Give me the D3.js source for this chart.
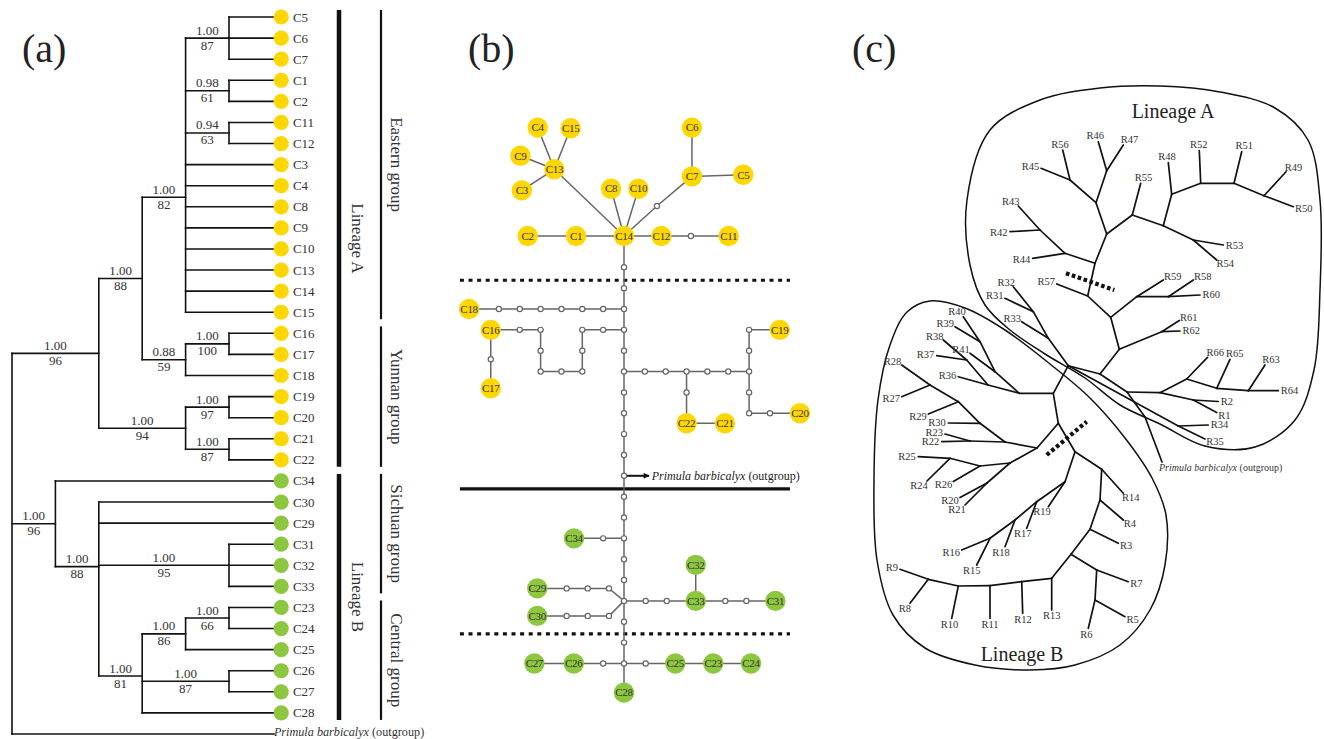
<!DOCTYPE html>
<html>
<head>
<meta charset="utf-8">
<script src="https://cdn.jsdelivr.net/npm/d3@7"></script>
<style>
  body { margin: 0; background: #fff; }
  svg { display: block; }
  text { font-family: "Liberation Serif", "Times New Roman", serif; }
</style>
</head>
<body>
<svg id="fig" width="1324" height="739"></svg>
<script>
// ================= data =================

// (a) Bayesian / ML tree of chloroplast haplotypes; [posterior, bootstrap]
const haplotypeTree = {level: 0, children: [
  {level: 2, sup: ["1.00", "96"], children: [
    {level: 3, sup: ["1.00", "88"], children: [
      {level: 4, sup: ["1.00", "82"], children: [
        {level: 5, sup: ["1.00", "87"], children: ["C5", "C6", "C7"]},
        {level: 5, sup: ["0.98", "61"], children: ["C1", "C2"]},
        {level: 5, sup: ["0.94", "63"], children: ["C11", "C12"]},
        "C3", "C4", "C8", "C9", "C10", "C13", "C14", "C15"]},
      {level: 4, sup: ["0.88", "59"], children: [
        {level: 5, sup: ["1.00", "100"], children: ["C16", "C17"]}, "C18"]}]},
    {level: 4, sup: ["1.00", "94"], children: [
      {level: 5, sup: ["1.00", "97"], children: ["C19", "C20"]},
      {level: 5, sup: ["1.00", "87"], children: ["C21", "C22"]}]}]},
  {level: 1, sup: ["1.00", "96"], children: [
    "C34",
    {level: 2, sup: ["1.00", "88"], children: [
      "C30", "C29",
      {level: 5, sup: ["1.00", "95"], children: ["C31", "C32", "C33"]},
      {level: 3, sup: ["1.00", "81"], children: [
        {level: 4, sup: ["1.00", "86"], children: [
          {level: 5, sup: ["1.00", "66"], children: ["C23", "C24"]}, "C25"]},
        {level: 5, sup: ["1.00", "87"], children: ["C26", "C27"]},
        "C28"]}]}]},
  "OUTGROUP"]};

const lineageAHaplotypes = ["C1","C2","C3","C4","C5","C6","C7","C8","C9","C10","C11",
  "C12","C13","C14","C15","C16","C17","C18","C19","C20","C21","C22"];

const lineageBars = [["Lineage A", "C5", "C22"], ["Lineage B", "C34", "C28"]];
const groupBars = [["Eastern group", "C5", "C15"], ["Yunnan group", "C16", "C22"],
                   ["Sichuan group", "C34", "C33"], ["Central group", "C23", "C28"]];

// (b) haplotype network, positions in network grid steps (one step = one mutation)
const networkHaplotypes = [
  ["C4",-4.14,-4.7],["C15",-2.56,-4.67],["C9",-4.97,-3.35],["C13",-3.34,-2.7],["C3",-4.9,-1.69],
  ["C8",-0.62,-1.77],["C10",0.69,-1.77],["C6",3.26,-4.7],["C7",3.26,-2.36],["C5",5.72,-2.44],
  ["C2",-4.62,0.5],["C1",-2.3,0.5],["C14",0,0.5],["C12",1.79,0.5],["C11",5.02,0.5],
  ["C18",-7.43,4],["C16",-6.39,5],["C17",-6.39,7.8],["C19",7.47,5],
  ["C22",3,9.48],["C21",4.84,9.48],["C20",8.44,9],
  ["C34",-2.4,15],["C29",-4.16,17.4],["C30",-4.16,18.72],["C33",3.44,18],["C32",3.44,16.27],["C31",7.26,18],
  ["C27",-4.3,21],["C26",-2.41,21],["C25",2.46,21],["C23",4.28,21],["C24",6.09,21],["C28",0,22.4]
];
// missing (median) haplotypes
const medianVectors = [
  ["m1",1.58,-0.94],["m2",3.21,0.5],
  ["v2",0,2],["v3",0,3],["v4",0,4],["v5",0,5],["v6",0,6],["v7",0,7],["v8",0,8],["v9",0,9],
  ["v10",0,10],["v11",0,11],["v12",0,12],["v13",0,13],["v14",0,14],["v15",0,15],["v16",0,16],
  ["v17",0,17],["v18",0,18],["v19",0,19],["v20",0,20],["v21",0,21],
  ["h1",-1,4],["h2",-2,4],["h3",-3,4],["h4",-4,4],["h5",-5,4],["h6",-6,4],
  ["p1",-1,5],["p2",-2,5],["p3",-2,6],["p4",-2,7],["p5",-3,7],["p6",-4,7],["p7",-4,6],["p8",-4,5],["p9",-5,5],
  ["q1",-6.39,6.41],
  ["r1",1,7],["r2",2,7],["r3",3,7],["r4",4,7],["r5",5,7],["r6",6,7],["r7",3,8],
  ["r8",6,6],["r9",6,5],["r10",6,8],["r11",6,9],["r12",7,9],
  ["s1",-1,15],
  ["t1",-0.72,17.4],["t2",-1.74,17.4],["t3",-2.75,17.4],["t4",-0.72,18.72],["t5",-1.74,18.72],["t6",-2.75,18.72],
  ["u1",1.04,18],["u2",2.05,18],["u3",4.86,18],["u4",5.87,18],
  ["w1",-1,21],["w2",1.04,21]
];
const networkPaths = [
  ["C4","C13"],["C15","C13"],["C9","C13"],["C3","C13"],["C13","C14"],["C8","C14"],["C10","C14"],
  ["C14","m1","C7"],["C6","C7","C5"],["C2","C1","C14","C12","m2","C11"],
  ["C14","v2","v3","v4","v5","v6","v7","v8","v9","v10","v11","v12","v13","v14","v15","v16",
   "v17","v18","v19","v20","v21","C28"],
  ["v4","h1","h2","h3","h4","h5","h6","C18"],
  ["v5","p1","p2","p3","p4","p5","p6","p7","p8","p9","C16"],
  ["C16","q1","C17"],
  ["v7","r1","r2","r3","r4","r5","r6","r8","r9","C19"],
  ["r3","r7","C22","C21"],
  ["r6","r10","r11","r12","C20"],
  ["v15","s1","C34"],
  ["v18","t1","t2","t3","C29"],["v18","t4","t5","t6","C30"],
  ["v18","u1","u2","C33","u3","u4","C31"],["C33","C32"],
  ["v21","w1","C26","C27"],["v21","w2","C25","C23","C24"]
];
const networkOutgroupNode = "v12";
const dottedRows = [2.62, 19.58];
const solidRows = [12.63];
const separatorCols = [-7.87, 7.96];

// (c) unrooted tree of nuclear ribotypes, node positions in panel units
const ribotypeNodes = [
  ["a1",246.7,154],["a2",210,100],["a3",246.7,90.7],["a4",236,122.7],["a5",272.3,135],["a6",303.3,145.7],
  ["a7",311.7,114.3],["a8",340.7,103.3],["a9",374,103.3],["a10",404,115.7],["a11",333.3,160],
  ["a12",235,183.3],["a13",205,173.3],["a14",180,150],["a15",227.7,216],["a16",250.7,237.3],
  ["a17",276.7,216.7],["a18",308.3,216.7],["a19",259.3,269.3],["a20",301.7,251.7],
  ["hubR",240,294],["a21",267,312],["a22",300,312.7],["a23",326.7,299],["a24",356.7,308.3],
  ["a25",388.3,310.7],["a26",333.3,320],["og1",285,337],["hubM",208.3,285.7],["a27",318.3,346],
  ["c1",188.3,258.3],["c2",173.3,231.7],["hubL",193.3,313.3],["b1",198.3,343.3],["b2",177,368],
  ["b3",145,362],["b4",110,361],["b5",120,343.3],["b6",98.3,321.7],["b7",70,305],
  ["J1",150,383],["J2",120,386],["J3",90,378.3],["J4",127,403],
  ["b8",215,371.7],["b9",241.7,389.3],["b10",240,420],["b11",230,449.3],["b12",211,474.3],
  ["b13",236.7,490],["b14",235,520],["b15",191.7,498.3],["b16",161.7,501.7],["b17",130,505.7],
  ["b18",98.3,506],["b19",68.3,499.3],["b20",205,401.7],["b21",176.7,421.7],["b22",155,440],
  ["b23",130,458.3],["b24",159.3,313.3],["b25",135,291.7],["b26",120,261.7],["b27",128,305],["b28",106.7,280]
];
const ribotypeTips = [
  ["R56",202.7,70],["R45",181,88.3],["R46",238.3,61.7],["R47",263.3,65],["R55",280.7,103.3],
  ["R48",308.3,82.7],["R52",339.3,70.7],["R51",381.7,71.7],["R49",426,91.7],["R50",433.3,126.7],
  ["R53",363.3,165],["R54",356.7,180],["R44",172.7,178.3],["R42",150,151.7],["R43",158.3,126],
  ["R57",196.7,204],["R59",303.3,200],["R58",333.3,200],["R60",340,215],["R61",319.3,240.5],
  ["R62",320,251],["R66",347.5,277.3],["R65",370,279.3],["R63",405,285],["R64",418.3,310.7],
  ["R2",358.3,321.5],["R1",356.7,332.5],["R34",348.3,345],["R35",345,359],
  ["R33",161.7,241.7],["R32",153.3,206.7],["R31",145,218.3],
  ["R22",81.7,361.7],["R23",85,354],["R30",88.3,343],["R29",68.3,334],["R27",41.7,316.7],["R28",41.7,285],
  ["R25",58.3,376.7],["R24",67,401],["R26",93.3,401.5],["R20",100,417.5],["R21",105,425],
  ["R14",263.3,413.3],["R4",263.3,440],["R3",258.3,463.3],["R7",268.3,501.7],["R5",265,536.7],
  ["R6",228.3,548.3],["R13",191.7,530],["R12",162.7,533.3],["R11",130,538.3],["R10",91.7,538.3],
  ["R8",50,523.3],["R9",40,489.3],["R19",188.3,426.7],["R17",166.7,448.3],["R18",145,466.7],
  ["R16",101.7,470],["R15",116.7,485],["R41",110,273.3],["R39",95,246.7],["R40",103.3,236.7],
  ["R36",98.3,296.7],["R37",76.7,275.7],["R38",83.3,260]
];
const ribotypeOutgroup = ["OG", 302, 382];
const ribotypeEdges = [
  ["a1","a4"],["a4","a2"],["a2","R56"],["a2","R45"],["a4","a3"],["a3","R46"],["a3","R47"],
  ["a1","a5"],["a5","R55"],["a5","a6"],["a6","a7"],["a7","R48"],["a7","a8"],["a8","R52"],
  ["a8","a9"],["a9","R51"],["a9","a10"],["a10","R49"],["a10","R50"],["a6","a11"],["a11","R53"],
  ["a11","R54"],["a12","a1"],["a12","a13"],["a13","R44"],["a13","a14"],["a14","R42"],["a14","R43"],
  ["a15","a12"],["a15","R57"],["a16","a15"],["a16","a17"],["a17","R59"],["a17","a18"],["a18","R58"],
  ["a18","R60"],["a19","a16"],["a19","a20"],["a20","R61"],["a20","R62"],["hubR","a19"],["hubR","a21"],
  ["a21","a22"],["a22","a23"],["a23","R66"],["a23","a24"],["a24","R65"],["a24","a25"],["a25","R63"],
  ["a25","R64"],["a22","a26"],["a26","R2"],["a26","R1"],["a21","og1"],["og1","OG"],
  ["hubM","hubR"],["hubM","a27"],["a27","R34"],["a27","R35"],["hubM","c1"],["c1","R33"],["c1","c2"],
  ["c2","R32"],["c2","R31"],["hubM","hubL"],["hubL","b24"],["b24","b25"],["b25","R41"],["b25","b26"],
  ["b26","R39"],["b26","R40"],["b24","b27"],["b27","R36"],["b27","b28"],["b28","R37"],["b28","R38"],
  ["hubL","b1"],["b1","b2"],["b2","b3"],["b3","b4"],["b4","R22"],["b4","R23"],["b3","b5"],["b5","R30"],
  ["b5","b6"],["b6","R29"],["b6","b7"],["b7","R27"],["b7","R28"],["b2","J1"],["J1","J2"],["J2","J3"],
  ["J3","R25"],["J3","R24"],["J2","R26"],["J1","J4"],["J4","R20"],["J4","R21"],["b1","b8"],["b8","b9"],
  ["b9","R14"],["b9","b10"],["b10","R4"],["b10","b11"],["b11","R3"],["b11","b12"],["b12","b13"],
  ["b13","R7"],["b13","b14"],["b14","R5"],["b14","R6"],["b12","b15"],["b15","R13"],["b15","b16"],
  ["b16","R12"],["b16","b17"],["b17","R11"],["b17","b18"],["b18","R10"],["b18","b19"],["b19","R8"],
  ["b19","R9"],["b8","b20"],["b20","R19"],["b20","b21"],["b21","R17"],["b21","b22"],["b22","R18"],
  ["b22","b23"],["b23","R16"],["b23","R15"]
];
const lineageAOutline = [[130,50],[180,20],[240,8],[300,6],[360,12],[415,28],[448,60],[460,120],
  [460,210],[454,290],[435,340],[395,367],[345,366],[300,344],[260,325],[225,298],[185,274],
  [150,250],[125,225],[110,185],[107,120]];
const lineageBOutline = [[70,221],[105,228],[145,250],[190,284],[230,318],[265,358],[292,398],
  [306,435],[305,485],[290,530],[260,565],[215,585],[170,590],[115,585],[65,568],[33,535],
  [17,480],[14,400],[18,320],[30,265],[47,232]];
const outlineLabels = [["Lineage A", 313, 38], ["Lineage B", 162, 581]];
const lineageSplitMarks = [[[206,193.3],[254.3,210]], [[186.7,375],[226.7,341.7]]];

const panelLetters = [["(a)", 22, 62], ["(b)", 468, 62], ["(c)", 852, 62]];

// ================= drawing =================
const YELLOW = "#FFD700", GREEN = "#8DC63F";
const svg = d3.select("#fig");
svg.append("rect").attr("width", 1324).attr("height", 739).attr("fill", "#fff");

svg.selectAll("text.panel").data(panelLetters).join("text")
  .attr("class", "panel").attr("x", d => d[1]).attr("y", d => d[2])
  .attr("font-size", 40).attr("fill", "#222").text(d => d[0]);

const colourOf = id => lineageAHaplotypes.includes(id) ? YELLOW : GREEN;

// ---------- (a) tree ----------
const gA = svg.append("g");
const xA = d3.scaleLinear().domain([0, 6]).range([12, 272.4]);
const yA = d3.scaleLinear().domain([0, 34]).range([17, 734]);
const LEAF_LEVEL = 6;

let leafCounter = 0;
const leafY = {};
function layout(node, parent) {
  if (typeof node === "string") {
    const y = yA(leafCounter++);
    leafY[node] = y;
    return {name: node, leaf: true, level: LEAF_LEVEL, y, parent};
  }
  const n = {level: node.level, sup: node.sup, parent, leaf: false};
  n.kids = node.children.map(c => layout(c, n));
  n.y = d3.mean(n.kids, k => k.y);
  return n;
}
const rootA = layout(haplotypeTree, null);

const treeLines = [], supports = [], leaves = [];
(function walk(n) {
  if (n.leaf) { leaves.push(n); return; }
  const ys = n.kids.map(k => k.y);
  treeLines.push([xA(n.level), d3.min(ys), xA(n.level), d3.max(ys)]);
  n.kids.forEach(k => {
    treeLines.push([xA(n.level), k.y, xA(k.level) + (k.leaf ? 1.5 : 0), k.y]);
    walk(k);
  });
  if (n.sup && n.parent) supports.push({x: (xA(n.parent.level) + xA(n.level)) / 2, y: n.y, sup: n.sup});
})(rootA);

gA.selectAll("line.br").data(treeLines).join("line").attr("class", "br")
  .attr("x1", d => d[0]).attr("y1", d => d[1]).attr("x2", d => d[2]).attr("y2", d => d[3])
  .attr("stroke", "#111").attr("stroke-width", 1.6).attr("stroke-linecap", "square");

const supG = gA.selectAll("g.sup").data(supports).join("g").attr("class", "sup");
supG.append("text").attr("x", d => d.x).attr("y", d => d.y - 3.5).attr("text-anchor", "middle")
  .attr("font-size", 13).attr("fill", "#333").text(d => d.sup[0]);
supG.append("text").attr("x", d => d.x).attr("y", d => d.y + 11.5).attr("text-anchor", "middle")
  .attr("font-size", 13).attr("fill", "#333").text(d => d.sup[1]);

const tips = leaves.filter(l => l.name !== "OUTGROUP");
gA.selectAll("circle.tip").data(tips).join("circle").attr("class", "tip")
  .attr("cx", xA(LEAF_LEVEL) + 8.8).attr("cy", d => d.y).attr("r", 7.6)
  .attr("fill", d => colourOf(d.name));
gA.selectAll("text.tip").data(tips).join("text").attr("class", "tip")
  .attr("x", xA(LEAF_LEVEL) + 20.5).attr("y", d => d.y + 4.5)
  .attr("font-size", 13).attr("fill", "#333").text(d => d.name);

const outLeaf = leaves.find(l => l.name === "OUTGROUP");
const outLabel = gA.append("text").attr("x", xA(LEAF_LEVEL) + 1.5).attr("y", outLeaf.y + 2)
  .attr("font-size", 12.2).attr("fill", "#333");
outLabel.append("tspan").attr("font-style", "italic").text("Primula barbicalyx");
outLabel.append("tspan").text(" (outgroup)");

function barExtent(a, b) { return [leafY[a] - 7, leafY[b] + 7]; }
gA.selectAll("line.lin").data(lineageBars).join("line").attr("class", "lin")
  .attr("x1", 339).attr("x2", 339)
  .attr("y1", d => barExtent(d[1], d[2])[0]).attr("y2", d => barExtent(d[1], d[2])[1])
  .attr("stroke", "#111").attr("stroke-width", 4.5);
gA.selectAll("text.lin").data(lineageBars).join("text").attr("class", "lin")
  .attr("transform", d => `translate(357,${d3.mean(barExtent(d[1], d[2]))}) rotate(90)`)
  .attr("text-anchor", "middle").attr("dy", "0.32em").attr("font-size", 17).attr("fill", "#333")
  .text(d => d[0]);
gA.selectAll("line.grp").data(groupBars).join("line").attr("class", "grp")
  .attr("x1", 381).attr("x2", 381)
  .attr("y1", d => barExtent(d[1], d[2])[0]).attr("y2", d => barExtent(d[1], d[2])[1])
  .attr("stroke", "#111").attr("stroke-width", 2.2);
gA.selectAll("text.grp").data(groupBars).join("text").attr("class", "grp")
  .attr("transform", d => `translate(396,${d3.mean(barExtent(d[1], d[2]))}) rotate(90)`)
  .attr("text-anchor", "middle").attr("dy", "0.32em").attr("font-size", 17).attr("fill", "#333")
  .text(d => d[0]);

// ---------- (b) network ----------
const gB = svg.append("g");
const STEP = 20.85;
const xB = d3.scaleLinear().domain([0, 1]).range([624, 624 + STEP]);
const yB = d3.scaleLinear().domain([0, 1]).range([225.6, 225.6 + STEP]);
const pos = {};
networkHaplotypes.forEach(d => pos[d[0]] = [xB(d[1]), yB(d[2])]);
medianVectors.forEach(d => pos[d[0]] = [xB(d[1]), yB(d[2])]);

svg.append("defs").append("marker").attr("id", "arrow").attr("viewBox", "0 0 10 10")
  .attr("refX", 9).attr("refY", 5).attr("markerWidth", 9).attr("markerHeight", 6)
  .attr("markerUnits", "userSpaceOnUse").attr("orient", "auto")
  .append("path").attr("d", "M0,0L10,5L0,10Z").attr("fill", "#111");

gB.selectAll("line.sepd").data(dottedRows).join("line").attr("class", "sepd")
  .attr("x1", xB(separatorCols[0])).attr("x2", xB(separatorCols[1]))
  .attr("y1", d => yB(d)).attr("y2", d => yB(d))
  .attr("stroke", "#111").attr("stroke-width", 3.2).attr("stroke-dasharray", "4,4.6");
gB.selectAll("line.seps").data(solidRows).join("line").attr("class", "seps")
  .attr("x1", xB(separatorCols[0])).attr("x2", xB(separatorCols[1]))
  .attr("y1", d => yB(d)).attr("y2", d => yB(d))
  .attr("stroke", "#111").attr("stroke-width", 3.2);

const netLine = d3.line();
gB.selectAll("path.link").data(networkPaths).join("path").attr("class", "link")
  .attr("d", d => netLine(d.map(id => pos[id])))
  .attr("fill", "none").attr("stroke", "#666").attr("stroke-width", 1.5);

const op = pos[networkOutgroupNode];
gB.append("line").attr("x1", op[0] + 2).attr("y1", op[1]).attr("x2", xB(1.2)).attr("y2", op[1])
  .attr("stroke", "#111").attr("stroke-width", 2).attr("marker-end", "url(#arrow)");
const bOut = gB.append("text").attr("x", xB(1.33)).attr("y", op[1] + 4.2)
  .attr("font-size", 12).attr("fill", "#222");
bOut.append("tspan").attr("font-style", "italic").text("Primula barbicalyx");
bOut.append("tspan").text(" (outgroup)");

gB.selectAll("circle.mv").data(medianVectors).join("circle").attr("class", "mv")
  .attr("cx", d => pos[d[0]][0]).attr("cy", d => pos[d[0]][1]).attr("r", 2.6)
  .attr("fill", "#fff").attr("stroke", "#666").attr("stroke-width", 1.2);
gB.selectAll("circle.hap").data(networkHaplotypes).join("circle").attr("class", "hap")
  .attr("cx", d => pos[d[0]][0]).attr("cy", d => pos[d[0]][1]).attr("r", 10.2)
  .attr("fill", d => colourOf(d[0]));
gB.selectAll("text.hap").data(networkHaplotypes).join("text").attr("class", "hap")
  .attr("x", d => pos[d[0]][0]).attr("y", d => pos[d[0]][1] + 3.8)
  .attr("text-anchor", "middle").attr("font-size", 11).attr("letter-spacing", -0.3)
  .attr("fill", "#333").text(d => d[0]);

// ---------- (c) unrooted tree ----------
const gC = svg.append("g");
const xC = d3.scaleLinear().domain([0, 464]).range([860, 1324]);
const yC = d3.scaleLinear().domain([0, 659]).range([80, 739]);
const cPos = {};
ribotypeNodes.forEach(d => cPos[d[0]] = [xC(d[1]), yC(d[2])]);
ribotypeTips.forEach(d => cPos[d[0]] = [xC(d[1]), yC(d[2])]);
cPos[ribotypeOutgroup[0]] = [xC(ribotypeOutgroup[1]), yC(ribotypeOutgroup[2])];

const outline = d3.line().x(d => xC(d[0])).y(d => yC(d[1])).curve(d3.curveCatmullRomClosed.alpha(0.5));
gC.selectAll("path.outline").data([lineageAOutline, lineageBOutline]).join("path").attr("class", "outline")
  .attr("d", outline).attr("fill", "none").attr("stroke", "#111").attr("stroke-width", 1.5);
gC.selectAll("text.outl").data(outlineLabels).join("text").attr("class", "outl")
  .attr("x", d => xC(d[1])).attr("y", d => yC(d[2])).attr("text-anchor", "middle")
  .attr("font-size", 20).attr("fill", "#222").text(d => d[0]);

gC.selectAll("line.edge").data(ribotypeEdges).join("line").attr("class", "edge")
  .attr("x1", d => cPos[d[0]][0]).attr("y1", d => cPos[d[0]][1])
  .attr("x2", d => cPos[d[1]][0]).attr("y2", d => cPos[d[1]][1])
  .attr("stroke", "#111").attr("stroke-width", 1.7).attr("stroke-linecap", "round");

gC.selectAll("line.split").data(lineageSplitMarks).join("line").attr("class", "split")
  .attr("x1", d => xC(d[0][0])).attr("y1", d => yC(d[0][1]))
  .attr("x2", d => xC(d[1][0])).attr("y2", d => yC(d[1][1]))
  .attr("stroke", "#111").attr("stroke-width", 4.2).attr("stroke-dasharray", "3.6,2.6");

// tip labels: the label box is centred just beyond the tip, along the terminal branch
const LABEL_SIZE = 10.5;
const parentOf = {};
ribotypeEdges.forEach(e => parentOf[e[1]] = e[0]);
const tipLabels = ribotypeTips.map(d => {
  const [tx, ty] = cPos[d[0]], [px, py] = cPos[parentOf[d[0]]];
  const len = Math.hypot(tx - px, ty - py), ux = (tx - px) / len, uy = (ty - py) / len;
  const w = LABEL_SIZE * (0.667 + 0.5 * (d[0].length - 1)), h = LABEL_SIZE * 0.66;
  return {name: d[0], x: tx + ux * (w / 2 + 2.5), y: ty + uy * (h / 2 + 2.5)};
});
gC.selectAll("text.rib").data(tipLabels).join("text").attr("class", "rib")
  .attr("x", d => d.x).attr("y", d => d.y + LABEL_SIZE * 0.33).attr("text-anchor", "middle")
  .attr("font-size", LABEL_SIZE).attr("fill", "#333").text(d => d.name);

const og = cPos[ribotypeOutgroup[0]];
const cOut = gC.append("text").attr("x", og[0] - 3).attr("y", og[1] + 9)
  .attr("font-size", 10).attr("fill", "#333");
cOut.append("tspan").attr("font-style", "italic").text("Primula barbicalyx");
cOut.append("tspan").text(" (outgroup)");
</script>
</body>
</html>
